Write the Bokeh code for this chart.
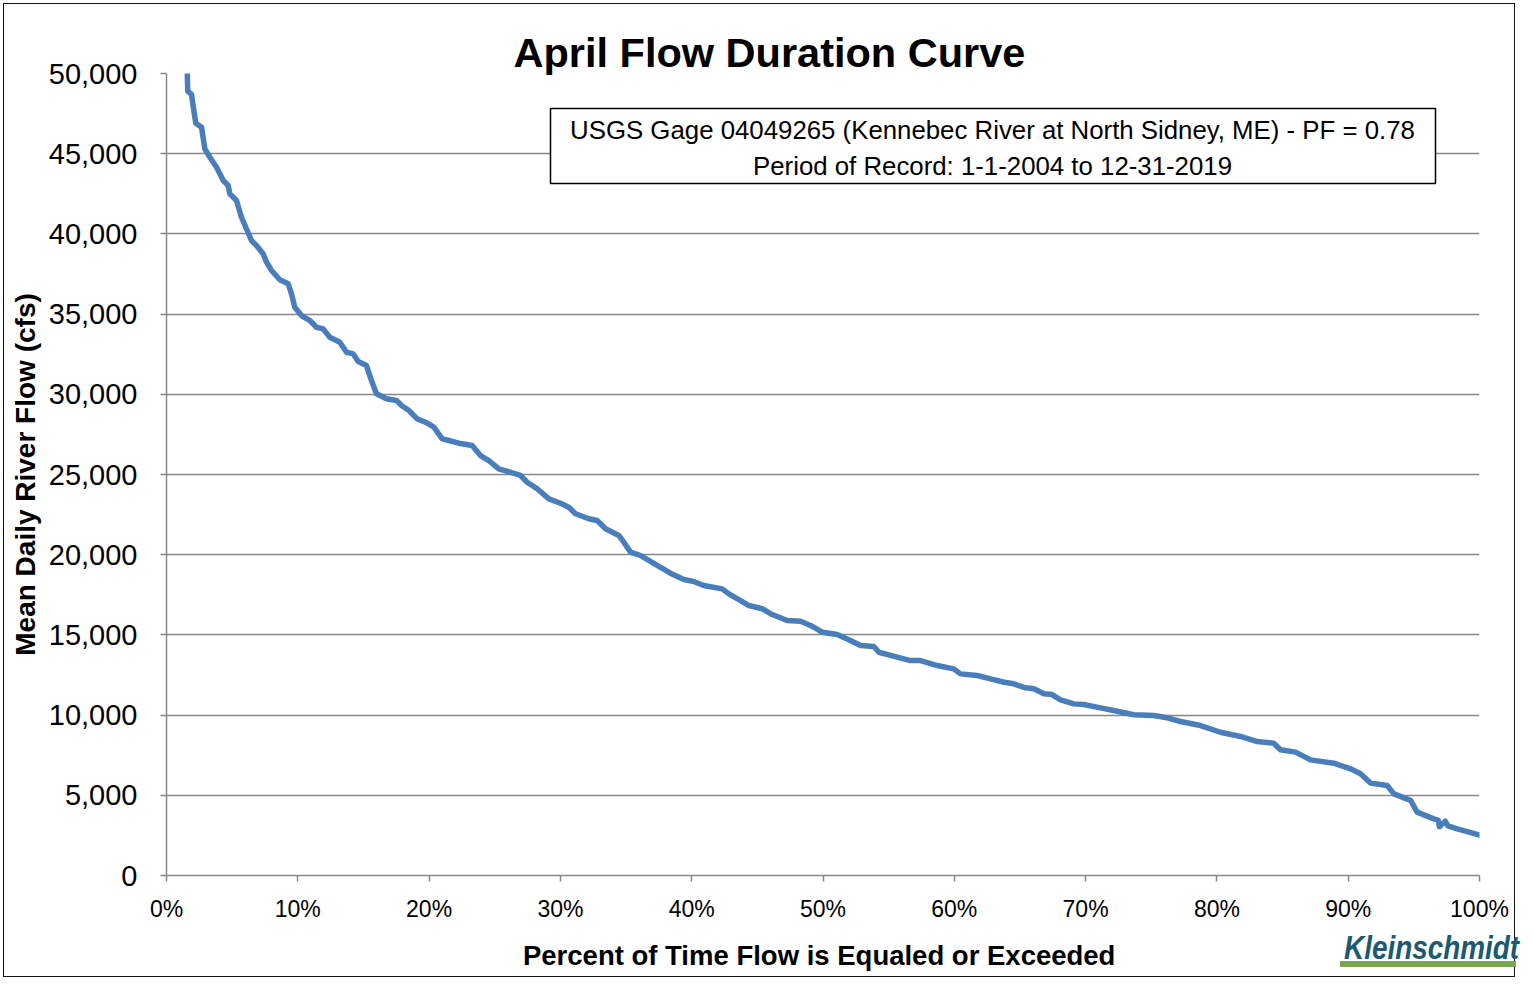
from bokeh.plotting import figure
from bokeh.models import (Range1d, SingleIntervalTicker, NumeralTickFormatter,
                          PrintfTickFormatter, Label, BoxAnnotation, Div)
from bokeh.layouts import column
from bokeh.embed import file_html
from bokeh.resources import INLINE

# ---------------- data ----------------
pct_exceeded = [1.50, 1.62, 1.90, 2.23, 2.67, 2.92, 3.30, 3.81, 4.32, 4.70, 4.82, 5.33,
                5.71, 6.09, 6.47, 6.85, 7.36, 7.62, 8.00, 8.63, 9.27, 9.52, 9.77, 10.28,
                10.92, 11.42, 11.93, 12.44, 13.20, 13.71, 14.22, 14.60, 15.23, 15.61, 15.99,
                16.75, 17.52, 17.90, 18.46, 19.09, 19.73, 20.36, 21.00, 21.50, 22.26, 23.28,
                23.91, 24.55, 25.31, 26.20, 26.96, 27.47, 28.23, 29.12, 30.01, 30.64, 31.15,
                32.16, 32.80, 33.44, 34.45, 34.83, 35.34, 36.10, 37.37, 38.38, 39.40, 40.16,
                40.92, 42.32, 42.83, 43.72, 44.35, 45.37, 46.13, 47.27, 48.29, 49.05, 49.94,
                51.08, 52.09, 52.86, 53.87, 54.25, 55.65, 56.66, 57.43, 58.70, 59.96, 60.47,
                61.74, 62.76, 63.80, 64.53, 65.42, 66.06, 66.82, 67.45, 68.09, 69.10, 69.86,
                71.13, 72.40, 73.67, 75.19, 76.21, 77.23, 78.75, 80.27, 81.80, 83.07, 84.33,
                84.84, 85.99, 87.13, 88.90, 90.18, 90.94, 91.70, 92.97, 93.48, 94.75, 95.25,
                96.52, 96.85, 96.95, 97.40, 97.60, 98.30, 99.82, 100.0]
flow_cfs = [52500, 48900, 48700, 46900, 46650, 45300, 44780, 44160, 43330, 43020, 42500, 42080,
            41040, 40320, 39590, 39280, 38760, 38240, 37720, 37140, 36890, 36260, 35430, 34910,
            34600, 34180, 34080, 33560, 33250, 32620, 32520, 32040, 31790, 30860, 30030,
            29720, 29610, 29300, 28990, 28470, 28260, 27950, 27220, 27120, 26950, 26810,
            26180, 25870, 25350, 25140, 24940, 24520, 24110, 23480, 23210, 22960, 22550,
            22240, 22130, 21620, 21200, 20780, 20160, 19950, 19330, 18850, 18450, 18330,
            18080, 17870, 17560, 17140, 16830, 16630, 16270, 15900, 15850, 15590, 15170,
            15020, 14650, 14340, 14280, 13920, 13610, 13400, 13400, 13090, 12880, 12570,
            12470, 12260, 12050, 11950, 11700, 11640, 11330, 11280, 10950, 10700, 10660,
            10450, 10240, 10020, 9975, 9830, 9600, 9350, 8930, 8670, 8350, 8250,
            7840, 7690, 7210, 7000, 6650, 6340, 5760, 5610, 5090, 4680, 3950,
            3530, 3450, 3050, 3380, 3100, 2910, 2560, 2520]

x_range_pct = (0, 100)
y_range_cfs = (0, 50000)
x_tick_step = 10
y_tick_step = 5000

title_text = "April Flow Duration Curve"
box_line1 = "USGS Gage 04049265 (Kennebec River at North Sidney, ME) - PF = 0.78"
box_line2 = "Period of Record: 1-1-2004 to 12-31-2019"
x_label = "Percent of Time Flow is  Equaled or Exceeded"
y_label = "Mean Daily River Flow (cfs)"
logo_text = "Kleinschmidt"

# ---------------- figure ----------------
W, H = 1518, 980
FONT = "Liberation Sans"
GRID = "#878787"

p = figure(width=W, height=H, output_backend="svg", toolbar_location=None,
           x_range=Range1d(*x_range_pct), y_range=Range1d(*y_range_cfs),
           min_border_left=166, min_border_right=39, min_border_top=73, min_border_bottom=105,
           background_fill_color="white", border_fill_color=None)
p.outline_line_color = None
p.styles = {"outline": "1.5px solid #111111", "outline-offset": "-4px",
            "background-color": "white"}

# title (in its own panel above the frame)
p.title.text = title_text
p.title.align = "left"
p.title.offset = 347
p.title.standoff = -4
p.title.text_font = FONT
p.title.text_font_style = "bold"
p.title.text_font_size = "41.5px"
p.title.text_color = "black"

p.line(pct_exceeded, flow_cfs, line_color="#4a7ebb", line_width=5.5,
       line_join="round", line_cap="round")

# grid
p.xgrid.visible = False
p.ygrid.ticker = SingleIntervalTicker(interval=y_tick_step)
p.ygrid.grid_line_color = GRID
p.ygrid.grid_line_width = 1.5

# x axis
xa = p.xaxis[0]
xa.ticker = SingleIntervalTicker(interval=x_tick_step)
xa.formatter = PrintfTickFormatter(format="%d%%")
xa.axis_line_color = GRID
xa.axis_line_width = 1.5
xa.major_tick_line_color = GRID
xa.major_tick_line_width = 1.5
xa.major_tick_in = 0
xa.major_tick_out = 6
xa.minor_tick_line_color = None
xa.major_label_text_font = FONT
xa.major_label_text_font_size = "23px"
xa.major_label_text_color = "black"
xa.major_label_standoff = 14
xa.axis_label = x_label
xa.axis_label_text_font = FONT
xa.axis_label_text_font_style = "bold"
xa.axis_label_text_font_size = "27.5px"
xa.axis_label_text_color = "black"
xa.axis_label_standoff = 15

# y axis
ya = p.yaxis[0]
ya.ticker = SingleIntervalTicker(interval=y_tick_step)
ya.formatter = NumeralTickFormatter(format="0,0")
ya.axis_line_color = GRID
ya.axis_line_width = 1.5
ya.major_tick_line_color = GRID
ya.major_tick_line_width = 1.5
ya.major_tick_in = 0
ya.major_tick_out = 6
ya.minor_tick_line_color = None
ya.major_label_text_font = FONT
ya.major_label_text_font_size = "29px"
ya.major_label_text_color = "black"
ya.major_label_standoff = 23
ya.axis_label = y_label
ya.axis_label_text_font = FONT
ya.axis_label_text_font_style = "bold"
ya.axis_label_text_font_size = "28px"
ya.axis_label_text_color = "black"
ya.axis_label_standoff = 5

# info box (screen units are measured from the frame's bottom-left corner)
p.add_layout(BoxAnnotation(left=384, right=1269, top=767, bottom=692,
                           left_units="screen", right_units="screen",
                           top_units="screen", bottom_units="screen",
                           fill_color="white", fill_alpha=1.0,
                           line_color="black", line_width=1.5, line_alpha=1.0))
for txt, yy in ((box_line1, 746), (box_line2, 710)):
    p.add_layout(Label(x=826, y=yy, x_units="screen", y_units="screen", text=txt,
                       text_align="center", text_baseline="middle",
                       text_font=FONT, text_font_size="25.8px",
                       text_color="black"))

# logo: an HTML block pulled up over the bottom-right corner of the figure
logo_html = (
    '<div style="width: 176px; height: 34px; line-height: 34px; white-space: nowrap;'
    ' border-bottom: 6px solid #7aa64f; padding-left: 4px; overflow: visible;">'
    '<span style="display: inline-block; transform: translateY(-3px) scaleX(0.82);'
    ' transform-origin: 0 50%;'
    ' font-family: \'Liberation Sans\', sans-serif; font-style: italic; font-weight: bold;'
    ' font-size: 34px; color: #1b5a6f;">' + logo_text + '</span></div>'
)
logo = Div(text=logo_html, width=176, height=40, margin=(-47, 0, 0, 1340))

layout = column(p, logo, spacing=0)

open("out.html", "w").write(file_html(layout, INLINE))
